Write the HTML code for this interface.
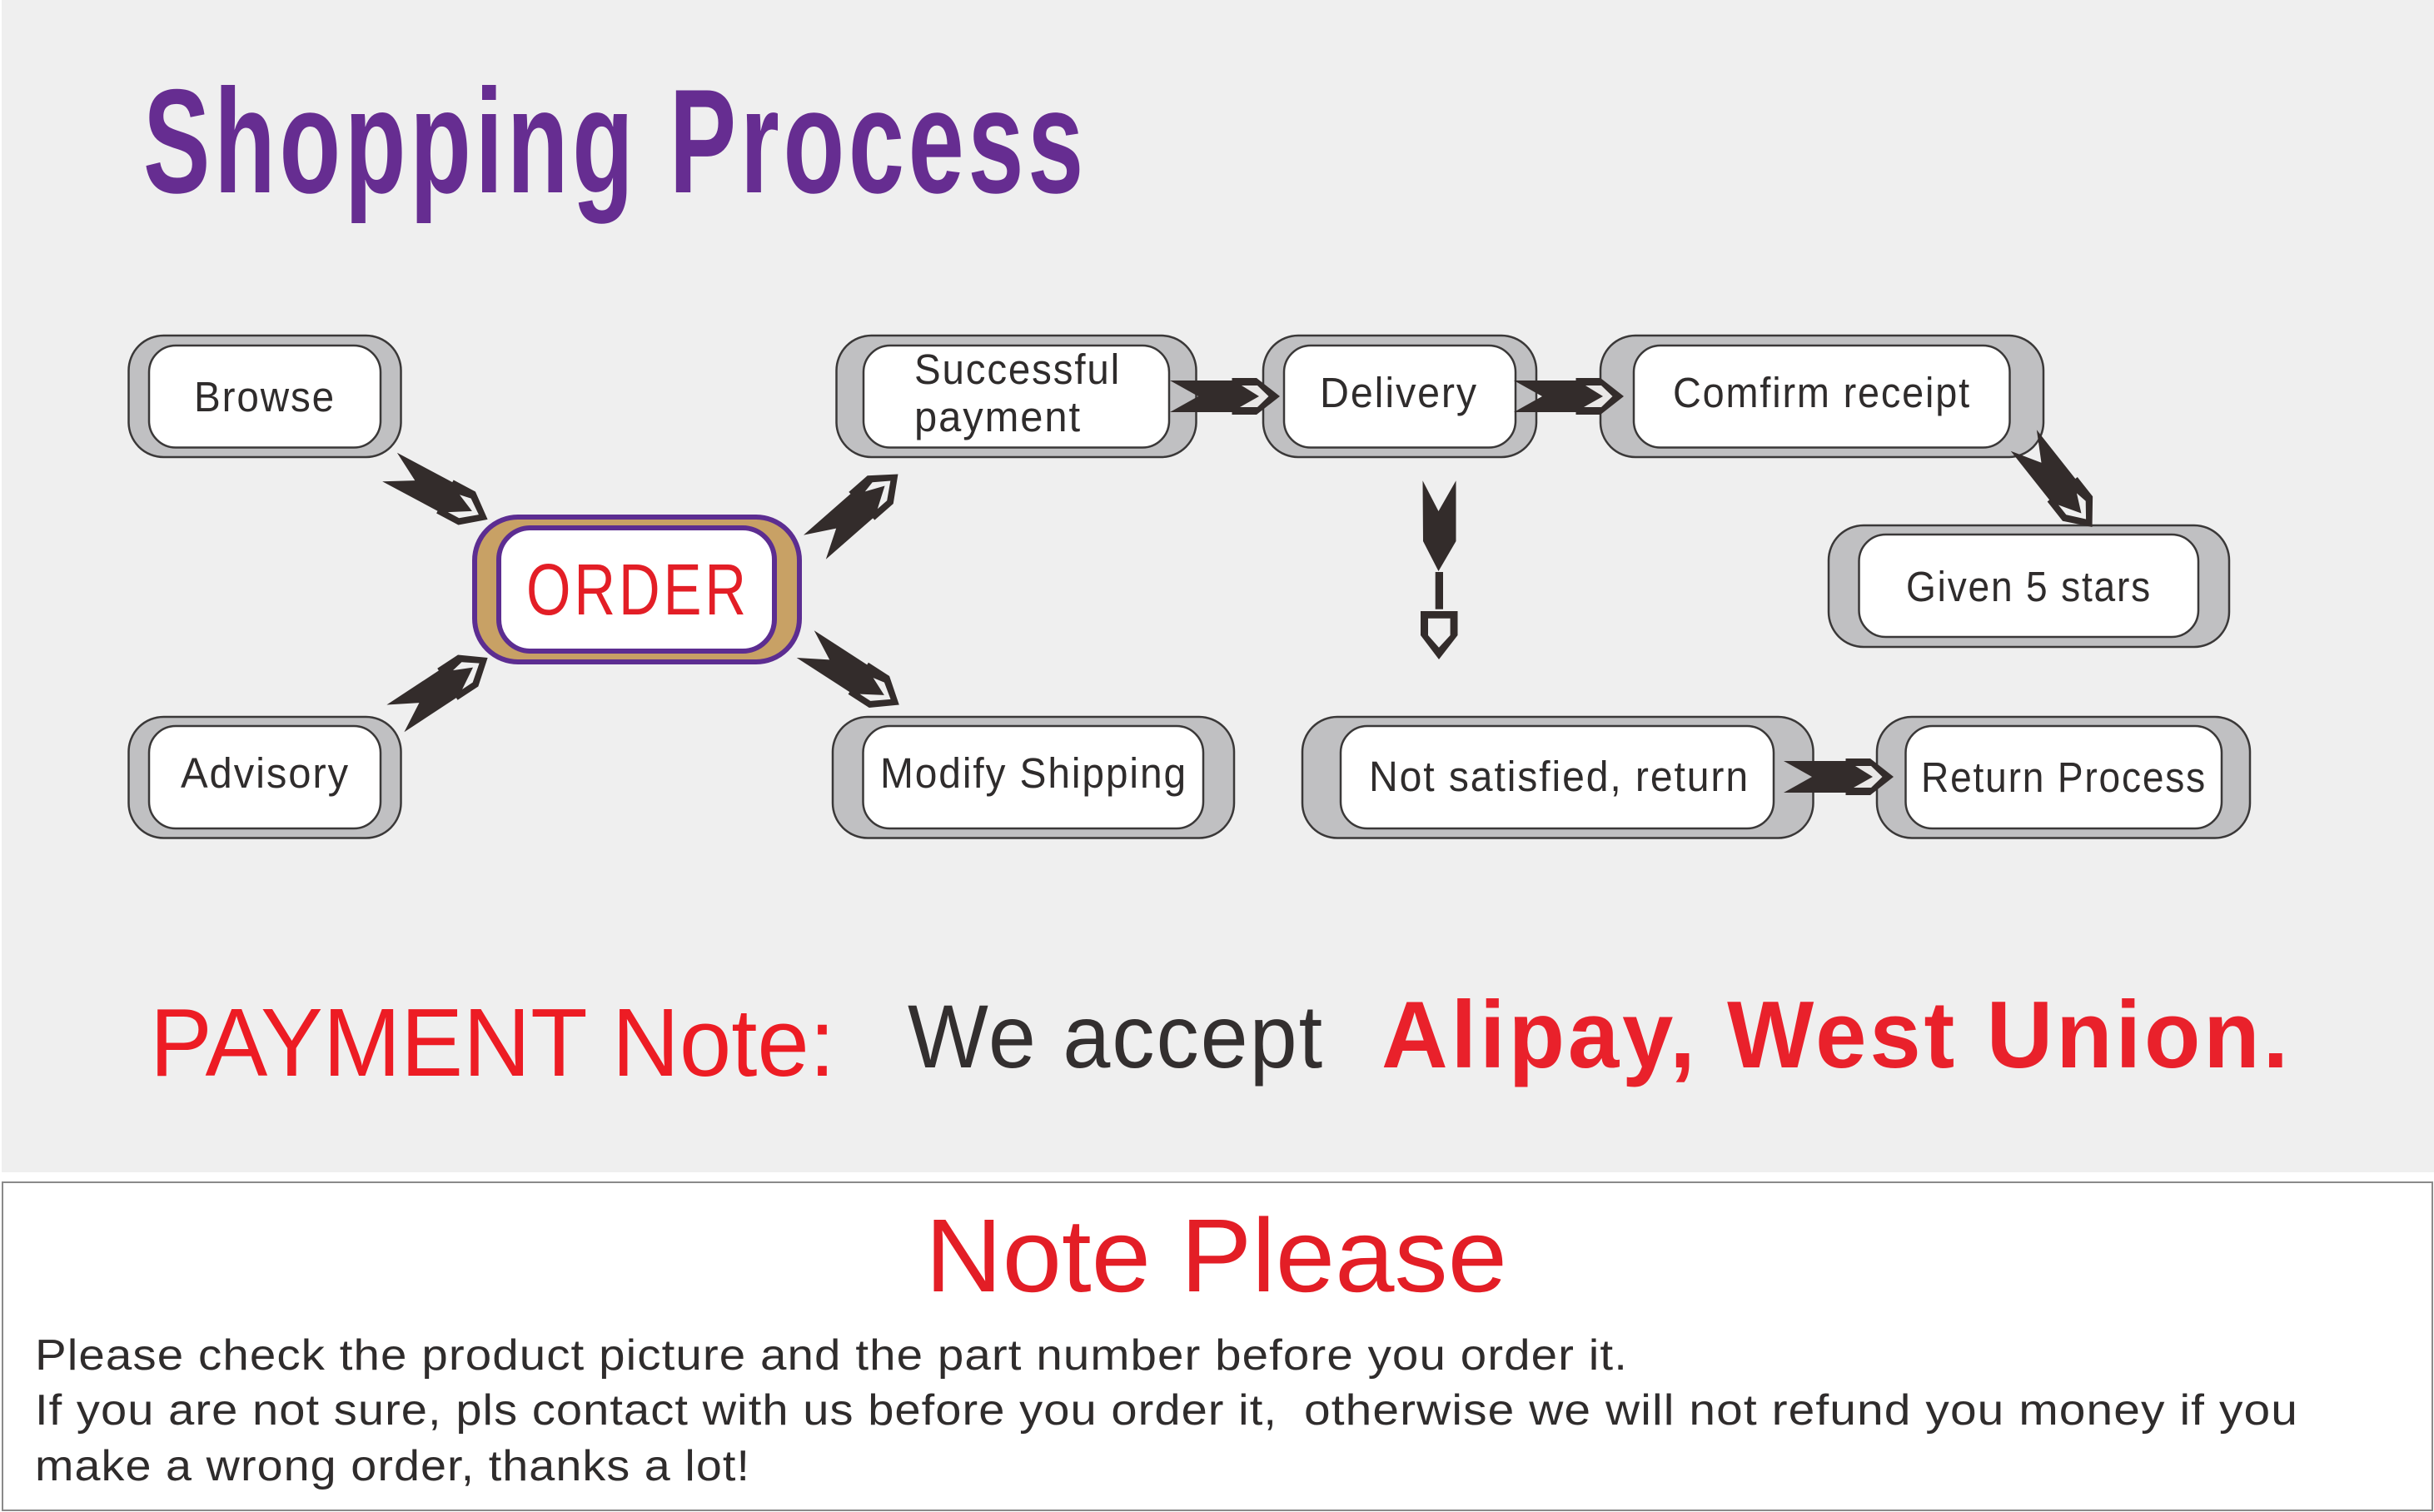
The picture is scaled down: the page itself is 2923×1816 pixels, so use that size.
<!DOCTYPE html>
<html><head><meta charset="utf-8"><title>Shopping Process</title>
<style>
html,body{margin:0;padding:0;background:#fff;width:2923px;height:1816px;overflow:hidden}
svg{display:block}
text{font-family:"Liberation Sans",sans-serif}
.n{font-family:"Liberation Sans Narrow","Liberation Sans",sans-serif;font-size:51px;fill:#2f2c2c;letter-spacing:2px}
</style></head><body>
<svg width="2923" height="1816" viewBox="0 0 2923 1816" xmlns="http://www.w3.org/2000/svg">
<defs>
<g id="ar">
<path fill="#332c2b" d="M0,-19L74.5,-19L74.5,-22L104,-22L132,0L104,22L74.5,22L74.5,19L0,19L34,0Z"/>
<path fill="#e9e7e6" d="M86,-13L105,-13L118.5,0L105,13L84,13L107,0Z"/>
</g>
<g id="ad">
<path fill="#332c2b" d="M0,-19L74.5,-19L74.5,-22L104,-22L132,0L104,22L74.5,22L74.5,19L0,19L34,0Z"/>
<path fill="#efefef" d="M89,-10L103,-12.5L120,0L101,14.5L86,14.5L111,0Z"/>
</g>
</defs>
<rect x="2" y="0" width="2921" height="1408" fill="#efefef"/>
<rect x="3" y="1420" width="2918" height="394" fill="#fff" stroke="#8a8a8a" stroke-width="2"/>

<g stroke="#3a3838" stroke-width="2.5">
<rect x="154.5" y="403" width="327" height="146" rx="42" fill="#c0c0c2"/><rect x="179" y="415" width="278" height="122.500" rx="32" fill="#fff"/>
<rect x="154.500" y="861" width="327" height="145.500" rx="42" fill="#c0c0c2"/><rect x="179" y="872" width="278" height="123" rx="32" fill="#fff"/>
<rect x="1004.500" y="403" width="432" height="146" rx="42" fill="#c0c0c2"/><rect x="1037" y="415" width="367" height="122.500" rx="32" fill="#fff"/>
<rect x="1000" y="861" width="482" height="145.500" rx="42" fill="#c0c0c2"/><rect x="1036.500" y="872" width="408.500" height="123" rx="32" fill="#fff"/>
<rect x="1517" y="403" width="328" height="146" rx="42" fill="#c0c0c2"/><rect x="1542" y="415" width="278" height="122.500" rx="32" fill="#fff"/>
<rect x="1922" y="403" width="532" height="146" rx="42" fill="#c0c0c2"/><rect x="1962" y="415" width="451.500" height="122.500" rx="32" fill="#fff"/>
<rect x="2196" y="631" width="481" height="146" rx="42" fill="#c0c0c2"/><rect x="2232.500" y="642" width="407.500" height="123" rx="32" fill="#fff"/>
<rect x="1564" y="861" width="613.500" height="145.500" rx="42" fill="#c0c0c2"/><rect x="1610" y="872" width="520" height="123" rx="32" fill="#fff"/>
<rect x="2254" y="861" width="448" height="145.500" rx="42" fill="#c0c0c2"/><rect x="2288.500" y="872" width="379.500" height="123" rx="32" fill="#fff"/>
</g>
<rect x="570" y="621" width="390" height="174" rx="52" fill="#c8a165" stroke="#5c2d91" stroke-width="6"/>
<rect x="599" y="634" width="331" height="148" rx="38" fill="#fff" stroke="#5c2d91" stroke-width="6"/>

<use href="#ar" transform="matrix(1,0,0,1,1405,476)"/>
<use href="#ar" transform="matrix(1,0,0,1,1818,476)"/>
<use href="#ar" transform="matrix(1,0,0,1,2142,933)"/>
<use href="#ad" transform="matrix(0.623,0.788,-0.82,0.67,2430.3,529)"/>
<use href="#ad" transform="matrix(0.891,0.476,-0.466,0.91,468,561)"/>
<use href="#ad" transform="matrix(0.758,-0.664,0.705,0.768,978.4,657.2)"/>
<use href="#ad" transform="matrix(0.839,-0.552,0.553,0.863,474.9,862.9)"/>
<use href="#ad" transform="matrix(0.853,0.552,-0.553,0.863,967.2,773.6)"/>
<path fill="#332c2b" d="M1708.500,577.300L1727.500,614L1748.500,577.300L1748.500,650L1727.500,686L1709,650Z"/>
<rect x="1723.700" y="687" width="9.300" height="44.700" fill="#332c2b"/>
<path fill="#332c2b" fill-rule="evenodd" d="M1706,734L1750.500,734L1750.500,763L1728,792L1706,763ZM1715,742.700L1715,763L1728,777.700L1741.600,763L1741.600,742.700Z"/>

<text x="172" y="231" font-size="178" font-weight="700" fill="#662d91" style="font-family:'Liberation Sans Narrow','Liberation Sans',sans-serif;letter-spacing:7px" textLength="1134" lengthAdjust="spacingAndGlyphs">Shopping Process</text>
<text x="632" y="738" font-size="87" fill="#e31e26" style="font-family:'Liberation Sans Narrow','Liberation Sans',sans-serif;letter-spacing:5px" textLength="268" lengthAdjust="spacingAndGlyphs">ORDER</text>

<text class="n" x="233" y="494" textLength="170" lengthAdjust="spacingAndGlyphs">Browse</text>
<text class="n" x="217" y="946" textLength="203" lengthAdjust="spacingAndGlyphs">Advisory</text>
<text class="n" x="1098" y="461" textLength="248" lengthAdjust="spacingAndGlyphs">Successful</text>
<text class="n" x="1098" y="518" textLength="201" lengthAdjust="spacingAndGlyphs">payment</text>
<text class="n" x="1585" y="489" textLength="190" lengthAdjust="spacingAndGlyphs">Delivery</text>
<text class="n" x="2009" y="489" textLength="358" lengthAdjust="spacingAndGlyphs">Comfirm receipt</text>
<text class="n" x="2289" y="722" textLength="295" lengthAdjust="spacingAndGlyphs">Given 5 stars</text>
<text class="n" x="1057" y="946" textLength="369" lengthAdjust="spacingAndGlyphs">Modify Shipping</text>
<text class="n" x="1644" y="950" textLength="457" lengthAdjust="spacingAndGlyphs">Not satisfied, return</text>
<text class="n" x="2307" y="951" textLength="343" lengthAdjust="spacingAndGlyphs">Return Process</text>

<text x="180" y="1292" font-size="116" fill="#ed1c24" textLength="823" lengthAdjust="spacingAndGlyphs">PAYMENT Note:</text>
<text x="1090" y="1282" font-size="108" fill="#332f2f" style="letter-spacing:2px" textLength="500" lengthAdjust="spacingAndGlyphs">We accept</text>
<text x="1659" y="1282" font-size="114" font-weight="700" fill="#e9212b" style="letter-spacing:4px" textLength="1093" lengthAdjust="spacingAndGlyphs">Alipay, West Union.</text>
<text x="1111" y="1551" font-size="125" fill="#e31e26" textLength="699" lengthAdjust="spacingAndGlyphs">Note Please</text>
<g font-size="52" fill="#2f2c2c" style="letter-spacing:1px">
<text x="42" y="1645" textLength="1913" lengthAdjust="spacingAndGlyphs">Please check the product picture and the part number before you order it.</text>
<text x="42" y="1711" textLength="1492" lengthAdjust="spacingAndGlyphs">If you are not sure, pls contact with us before you order it,</text>
<text x="1566" y="1711" textLength="1194" lengthAdjust="spacingAndGlyphs">otherwise we will not refund you money if you</text>
<text x="42" y="1778" textLength="859" lengthAdjust="spacingAndGlyphs">make a wrong order, thanks a lot!</text>
</g>
</svg>
</body></html>
